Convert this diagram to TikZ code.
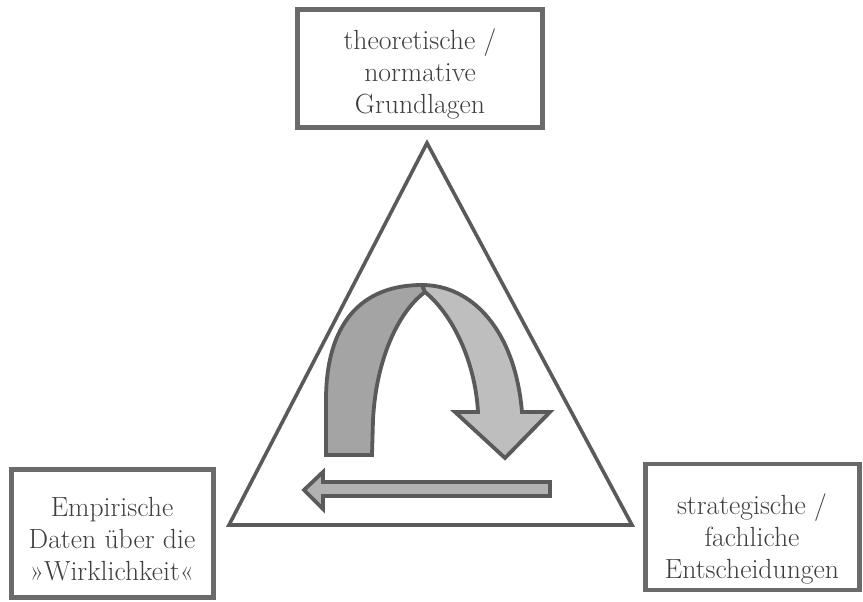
\documentclass[tikz,border=0pt]{standalone}
\definecolor{boxline}{HTML}{6A6A6A}
\definecolor{txt}{HTML}{3E3E3E}
\definecolor{arrline}{HTML}{5A5A5A}
\definecolor{darkfill}{HTML}{A4A4A4}
\definecolor{lightfill}{HTML}{BEBEBE}
\definecolor{hfill}{HTML}{B2B2B2}
\begin{document}
\begin{tikzpicture}[x=1pt,y=-1pt,
  box/.style={draw=boxline, line width=5pt, rectangle, inner sep=0pt},
  lbl/.style={text=txt, align=center, inner sep=0pt, font=\fontsize{27.7}{32}\selectfont},
  tri/.style={draw=arrline, line width=3.6pt, line join=miter},
  arr/.style={draw=arrline, line width=3.8pt, line join=miter}]
\useasboundingbox (0,0) rectangle (863,602);
% boxes
\node[box, minimum width=245pt, minimum height=118pt] (topbox) at (420,68.5) {};
\node[lbl] (toptext) at (420,74) {theoretische /\\normative\\Grundlagen};
\node[box, minimum width=202pt, minimum height=128pt] (leftbox) at (112.5,533) {};
\node[lbl] (lefttext) at (112,539) {Empirische\\Daten über die\\»Wirklichkeit«};
\node[box, line width=4.5pt, minimum width=214pt, minimum height=126pt] (rightbox) at (752.5,527) {};
\node[lbl] (righttext) at (752,539) {strategische /\\fachliche\\Entscheidungen};
% triangle
\coordinate (apex) at (427,143);
\coordinate (bl) at (229,525);
\coordinate (br) at (632,525);
\draw[tri] (apex) -- (bl) -- (br) -- cycle;
% curved ribbon arrow
\draw[arr, fill=darkfill] (326,455) -- (326,400) .. controls (326,325) and (360,285) .. (422,285)
  -- (425,292) .. controls (398,312) and (376,360) .. (373,420) -- (372,455) -- cycle;
\draw[arr, fill=lightfill] (422,285) .. controls (472,285) and (515,330) .. (522,412)
  -- (550,412) -- (505,458) -- (455,412) -- (478,412)
  .. controls (475,360) and (452,314) .. (425,292) -- cycle;
% straight arrow
\draw[arr, fill=hfill] (550,482) -- (323,482) -- (323,472) -- (304,490) -- (323,509)
  -- (323,496) -- (550,496) -- cycle;
\end{tikzpicture}
\end{document}
